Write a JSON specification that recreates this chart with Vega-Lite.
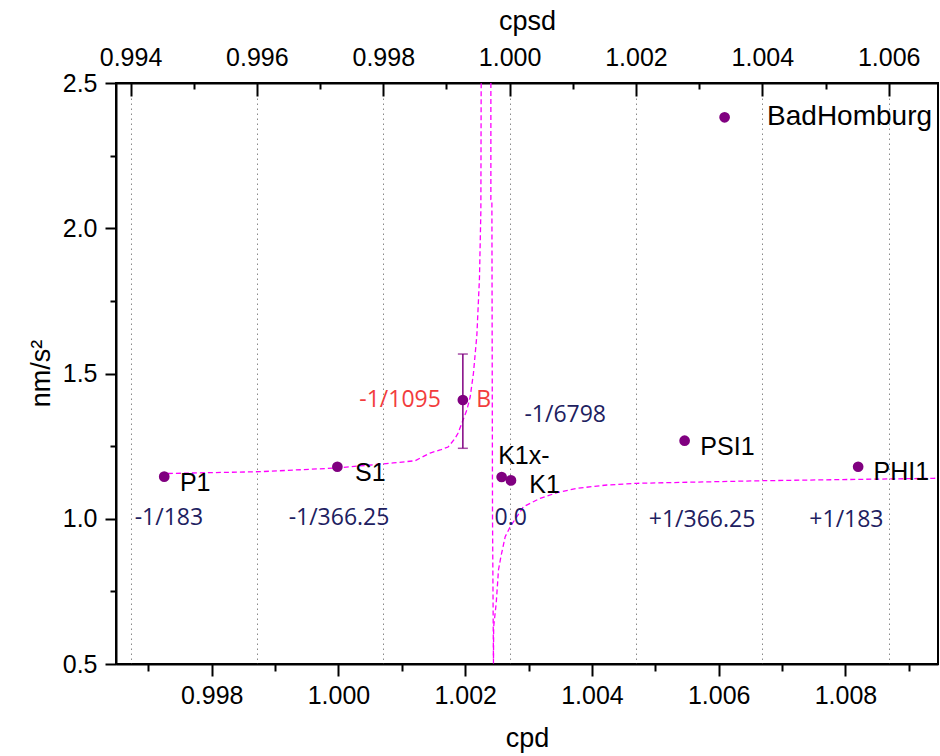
{
  "$schema": "https://vega.github.io/schema/vega-lite/v6.json",
  "width": 822,
  "height": 581,
  "autosize": {"type": "none"},
  "padding": {"left": 116, "top": 83, "right": 2, "bottom": 92},
  "background": "white",
  "config": {
    "view": {"stroke": "#000", "strokeWidth": 2},
    "axis": {
      "domainColor": "#000", "domainWidth": 2,
      "tickColor": "#000", "tickWidth": 2,
      "labelFont": "Liberation Sans", "labelFontSize": 25, "labelColor": "#000",
      "titleFont": "Liberation Sans", "titleFontSize": 27, "titleFontWeight": "normal", "titleColor": "#000",
      "labelFlush": false, "labelOverlap": false, "grid": false
    }
  },
  "datasets": {
    "axisTop": [{"cpsd": 0.994}, {"cpsd": 1.006}],
    "points": [
      {"name": "P1", "cpd": 0.997251, "g": 1.145},
      {"name": "S1", "cpd": 0.999983, "g": 1.179},
      {"name": "B", "cpd": 1.001963, "g": 1.4088},
      {"name": "K1x-", "cpd": 1.002575, "g": 1.1437},
      {"name": "K1", "cpd": 1.002722, "g": 1.132},
      {"name": "PSI1", "cpd": 1.005462, "g": 1.2687},
      {"name": "PHI1", "cpd": 1.0082, "g": 1.179},
      {"name": "BadHomburg", "cpd": 1.006093, "g": 2.382}
    ],
    "err": [{"cpd": 1.001963, "lo": 1.2425, "hi": 1.567}],
    "curve": [
      {"branch": "a", "i": 1, "cpd": 0.997309, "g": 1.1558},
      {"branch": "a", "i": 2, "cpd": 0.998762, "g": 1.162},
      {"branch": "a", "i": 3, "cpd": 0.999978, "g": 1.1747},
      {"branch": "a", "i": 4, "cpd": 1.000862, "g": 1.1921},
      {"branch": "a", "i": 5, "cpd": 1.00121, "g": 1.1998},
      {"branch": "a", "i": 6, "cpd": 1.001446, "g": 1.2263},
      {"branch": "a", "i": 7, "cpd": 1.001604, "g": 1.2367},
      {"branch": "a", "i": 8, "cpd": 1.00173, "g": 1.247},
      {"branch": "a", "i": 9, "cpd": 1.001841, "g": 1.277},
      {"branch": "a", "i": 10, "cpd": 1.001888, "g": 1.2952},
      {"branch": "a", "i": 11, "cpd": 1.002026, "g": 1.3743},
      {"branch": "a", "i": 12, "cpd": 1.002078, "g": 1.4191},
      {"branch": "a", "i": 13, "cpd": 1.00213, "g": 1.5007},
      {"branch": "a", "i": 14, "cpd": 1.002184, "g": 1.6325},
      {"branch": "a", "i": 15, "cpd": 1.002225, "g": 1.8287},
      {"branch": "a", "i": 16, "cpd": 1.002247, "g": 2.0594},
      {"branch": "a", "i": 17, "cpd": 1.002252, "g": 2.5},
      {"branch": "b", "i": 1, "cpd": 1.002405, "g": 2.5},
      {"branch": "b", "i": 2, "cpd": 1.002405, "g": 2.098},
      {"branch": "b", "i": 3, "cpd": 1.002421, "g": 2.094},
      {"branch": "b", "i": 4, "cpd": 1.002431, "g": 0.996},
      {"branch": "b", "i": 5, "cpd": 1.002446, "g": 0.5},
      {"branch": "c", "i": 1, "cpd": 1.002446, "g": 0.52},
      {"branch": "c", "i": 2, "cpd": 1.002449, "g": 0.628},
      {"branch": "c", "i": 3, "cpd": 1.002489, "g": 0.7089},
      {"branch": "c", "i": 4, "cpd": 1.002525, "g": 0.8236},
      {"branch": "c", "i": 5, "cpd": 1.002563, "g": 0.8694},
      {"branch": "c", "i": 6, "cpd": 1.002631, "g": 0.9382},
      {"branch": "c", "i": 7, "cpd": 1.00271, "g": 0.9726},
      {"branch": "c", "i": 8, "cpd": 1.00292, "g": 1.0415},
      {"branch": "c", "i": 9, "cpd": 1.003183, "g": 1.0704},
      {"branch": "c", "i": 10, "cpd": 1.003447, "g": 1.0897},
      {"branch": "c", "i": 11, "cpd": 1.003763, "g": 1.1048},
      {"branch": "c", "i": 12, "cpd": 1.004237, "g": 1.1162},
      {"branch": "c", "i": 13, "cpd": 1.00471, "g": 1.122},
      {"branch": "c", "i": 14, "cpd": 1.006709, "g": 1.131},
      {"branch": "c", "i": 15, "cpd": 1.009389, "g": 1.1392},
      {"branch": "c", "i": 16, "cpd": 1.009463, "g": 1.1396}
    ],
    "names": [
      {"label": "P1", "cpd": 0.997499, "g": 1.122},
      {"label": "S1", "cpd": 1.000262, "g": 1.156},
      {"label": "K1x-", "cpd": 1.00252, "g": 1.216},
      {"label": "K1", "cpd": 1.00301, "g": 1.116},
      {"label": "PSI1", "cpd": 1.00571, "g": 1.248},
      {"label": "PHI1", "cpd": 1.008442, "g": 1.162}
    ],
    "bigname": [
      {"label": "BadHomburg", "cpd": 1.006763, "g": 2.382}
    ],
    "periods": [
      {"label": "-1/183", "cpd": 0.997325, "g": 1.0015},
      {"label": "-1/366.25", "cpd": 1.000009, "g": 1.0015},
      {"label": "0.0", "cpd": 1.002718, "g": 1.0026},
      {"label": "+1/366.25", "cpd": 1.005737, "g": 0.9957},
      {"label": "+1/183", "cpd": 1.008015, "g": 0.9957},
      {"label": "-1/6798", "cpd": 1.003578, "g": 1.357}
    ],
    "fcn": [
      {"label": "-1/1095", "cpd": 1.000973, "g": 1.4088},
      {"label": "B", "cpd": 1.002291, "g": 1.4088}
    ]
  },
  "layer": [
    {
      "data": {"name": "axisTop"},
      "mark": {"type": "point", "opacity": 0},
      "encoding": {
        "x": {
          "field": "cpsd", "type": "quantitative",
          "scale": {"domain": [0.99377, 1.00678], "nice": false, "zero": false},
          "axis": {
            "orient": "top", "title": "cpsd",
            "values": [0.994, 0.995, 0.996, 0.997, 0.998, 0.999, 1.0, 1.001, 1.002, 1.003, 1.004, 1.005, 1.006],
            "labelExpr": "round(datum.value*1000)%2==1 ? '' : format(datum.value, '.3f')",
            "grid": true, "gridDash": [1.5, 3.5], "gridColor": "#8a8a8a", "gridWidth": 1,
            "gridOpacity": {"condition": {"test": "round(datum.value*1000)%2==1", "value": 0}, "value": 1},
            "tickSize": {"condition": {"test": "round(datum.value*1000)%2==1", "value": -6}, "value": -13},
            "labelBaseline": "alphabetic",
            "labelPadding": 31,
            "titleBaseline": "alphabetic",
            "titleY": -54
          }
        }
      }
    },
    {
      "layer": [
        {
          "data": {"name": "curve"},
          "mark": {"type": "line", "color": "#ff00ff", "strokeWidth": 1.3, "strokeDash": [5, 3], "clip": true},
          "encoding": {
            "x": {
              "field": "cpd", "type": "quantitative",
              "scale": {"domain": [0.99649, 1.00946], "nice": false, "zero": false},
              "axis": {
                "orient": "bottom", "title": "cpd",
                "values": [0.997, 0.998, 0.999, 1.0, 1.001, 1.002, 1.003, 1.004, 1.005, 1.006, 1.007, 1.008, 1.009],
                "labelExpr": "round(datum.value*1000)%2==1 ? '' : format(datum.value, '.3f')",
                "tickSize": {"condition": {"test": "round(datum.value*1000)%2==1", "value": 7}, "value": 12},
                "labelBaseline": "alphabetic",
                "labelPadding": 27,
                "titleBaseline": "alphabetic",
                "titleY": 82
              }
            },
            "y": {
              "field": "g", "type": "quantitative",
              "scale": {"domain": [0.5, 2.5], "nice": false, "zero": false},
              "axis": {
                "title": "nm/s²",
                "values": [0.5, 0.75, 1.0, 1.25, 1.5, 1.75, 2.0, 2.25, 2.5],
                "labelExpr": "round(datum.value*4)%2==1 ? '' : format(datum.value, '.1f')",
                "tickSize": {"condition": {"test": "round(datum.value*4)%2==1", "value": 6}, "value": 11},
                "labelPadding": 8,
                "titleBaseline": "alphabetic",
                "titleX": -67,
                "titleY": 290
              }
            },
            "detail": {"field": "branch", "type": "nominal"},
            "order": {"field": "i", "type": "quantitative"}
          }
        },
        {
          "data": {"name": "err"},
          "mark": {"type": "rule", "color": "#800080", "strokeWidth": 1.5},
          "encoding": {
            "x": {"field": "cpd", "type": "quantitative"},
            "y": {"field": "lo", "type": "quantitative"},
            "y2": {"field": "hi"}
          }
        },
        {
          "data": {"name": "err"},
          "transform": [{"fold": ["lo", "hi"], "as": ["end", "gv"]}],
          "mark": {"type": "tick", "orient": "horizontal", "color": "#800080", "size": 10, "thickness": 1.5},
          "encoding": {
            "x": {"field": "cpd", "type": "quantitative"},
            "y": {"field": "gv", "type": "quantitative"}
          }
        },
        {
          "data": {"name": "points"},
          "mark": {"type": "circle", "color": "#800080", "size": 115, "opacity": 1},
          "encoding": {
            "x": {"field": "cpd", "type": "quantitative"},
            "y": {"field": "g", "type": "quantitative"}
          }
        },
        {
          "data": {"name": "names"},
          "mark": {"type": "text", "align": "left", "baseline": "middle", "font": "Liberation Sans", "fontSize": 25, "color": "#000"},
          "encoding": {
            "x": {"field": "cpd", "type": "quantitative"},
            "y": {"field": "g", "type": "quantitative"},
            "text": {"field": "label"}
          }
        },
        {
          "data": {"name": "bigname"},
          "mark": {"type": "text", "align": "left", "baseline": "middle", "font": "Liberation Sans", "fontSize": 28, "color": "#000"},
          "encoding": {
            "x": {"field": "cpd", "type": "quantitative"},
            "y": {"field": "g", "type": "quantitative"},
            "text": {"field": "label"}
          }
        },
        {
          "data": {"name": "periods"},
          "mark": {"type": "text", "align": "center", "baseline": "middle", "font": "Open Sans", "fontSize": 23, "color": "#20205f"},
          "encoding": {
            "x": {"field": "cpd", "type": "quantitative"},
            "y": {"field": "g", "type": "quantitative"},
            "text": {"field": "label"}
          }
        },
        {
          "data": {"name": "fcn"},
          "mark": {"type": "text", "align": "center", "baseline": "middle", "font": "Open Sans", "fontSize": 23, "color": "#f23c3c"},
          "encoding": {
            "x": {"field": "cpd", "type": "quantitative"},
            "y": {"field": "g", "type": "quantitative"},
            "text": {"field": "label"}
          }
        }
      ]
    }
  ],
  "resolve": {"scale": {"x": "independent"}, "axis": {"x": "independent"}}
}
